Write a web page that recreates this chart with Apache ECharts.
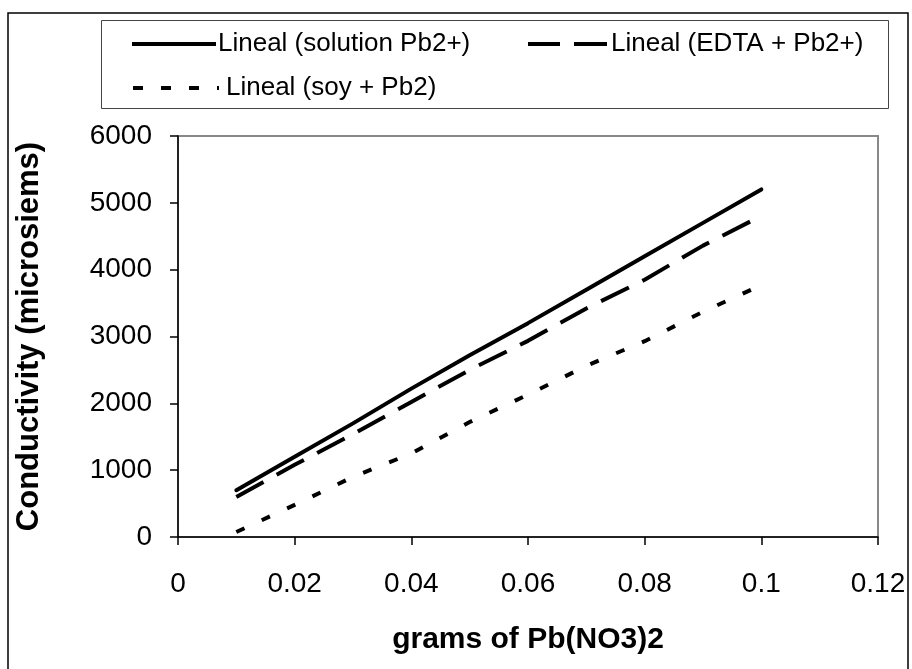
<!DOCTYPE html>
<html>
<head>
<meta charset="utf-8">
<script src="https://cdn.jsdelivr.net/npm/echarts@6/dist/echarts.min.js"></script>
<style>
html,body{margin:0;padding:0;background:#fff;}
#chart{width:912px;height:669px;}
</style>
</head>
<body>
<div id="chart"></div>
<script>
const grams = [0.01, 0.02, 0.03, 0.04, 0.05, 0.06, 0.07, 0.08, 0.09, 0.1];
const solutionPb = [700, 1200, 1700, 2220, 2720, 3200, 3700, 4200, 4700, 5200];
const edtaPb = [600, 1080, 1540, 2020, 2500, 2935, 3420, 3850, 4360, 4805];
const soyPb = [75, 480, 900, 1250, 1720, 2130, 2560, 2930, 3370, 3770];
const seriesNames = ['Lineal (solution Pb2+)', 'Lineal (EDTA + Pb2+)', 'Lineal (soy + Pb2)'];
const xTicks = ['0', '0.02', '0.04', '0.06', '0.08', '0.1', '0.12'];
const yTicks = ['0', '1000', '2000', '3000', '4000', '5000', '6000'];

function pairs(vals){ return grams.map((g,i)=>[g, vals[i]]); }

const FONT = '"Liberation Sans", Arial, sans-serif';
const chart = echarts.init(document.getElementById('chart'), null, {renderer:'canvas'});
function legendFor(name, icon, w, left, top, pad){
  return {
    data: [{name: name, icon: icon}],
    left: left, top: top, padding: 0,
    itemWidth: w, itemHeight: 4, symbolKeepAspect: false,
    textStyle: {fontFamily: FONT, fontSize: 26, color: '#000', padding: [0,0,0,pad]}
  };
}
chart.setOption({
  animation: false,
  backgroundColor: '#fff',
  graphic: [
    {type:'rect', shape:{x:8, y:13, width:900, height:700}, style:{fill:null, stroke:'#000', lineWidth:1.5}, z:0, silent:true},
    {type:'rect', shape:{x:101.5, y:20.5, width:787, height:88}, style:{fill:'#fff', stroke:'#444', lineWidth:1}, z:0, silent:true}
  ],
  legend: [
    legendFor(seriesNames[0], 'path://M0,0H84V4H0Z', 84, 132, 31, -3),
    legendFor(seriesNames[1], 'path://M0,0H32V4H0Z M46,0H79V4H46Z', 79, 528, 31, -1),
    legendFor(seriesNames[2], 'path://M0,0H10V4H0Z M28,0H38V4H28Z M56,0H66V4H56Z M84,0H86V4H84Z', 86, 133, 75, 2)
  ],
  grid: {left:178, right:34, top:136, bottom:132, show:true, borderColor:'#888', borderWidth:2, backgroundColor:'transparent'},
  xAxis: {
    type:'value', min:0, max:0.12, interval:0.02,
    name:'grams of Pb(NO3)2', nameLocation:'middle', nameGap:88,
    nameTextStyle:{fontFamily:FONT, fontSize:30, fontWeight:'bold', color:'#000'},
    axisLine:{show:true, onZero:false, lineStyle:{color:'#000', width:1.5}},
    axisTick:{show:true, inside:false, length:8, lineStyle:{color:'#000', width:1.5}},
    axisLabel:{fontFamily:FONT, fontSize:28, color:'#000', margin:33,
      formatter:(v)=>xTicks[Math.round(v/0.02)]},
    splitLine:{show:false}
  },
  yAxis: {
    type:'value', min:0, max:6000, interval:1000,
    name:'Conductivity (microsiems)', nameLocation:'middle', nameGap:133, nameRotate:90,
    nameTextStyle:{fontFamily:FONT, fontSize:31, fontWeight:'bold', color:'#000'},
    axisLine:{show:true, lineStyle:{color:'#000', width:1.5}},
    axisTick:{show:true, inside:false, length:8, lineStyle:{color:'#000', width:1.5}},
    axisLabel:{fontFamily:FONT, fontSize:28, color:'#000', margin:26,
      formatter:(v)=>yTicks[Math.round(v/1000)]},
    splitLine:{show:false}
  },
  series: [
    {name: seriesNames[0], type:'line', data: pairs(solutionPb), showSymbol:false, symbol:'none',
      lineStyle:{color:'#000', width:4, type:'solid', cap:'round'}, itemStyle:{color:'#000'}, z:3},
    {name: seriesNames[1], type:'line', data: pairs(edtaPb), showSymbol:false, symbol:'none',
      lineStyle:{color:'#000', width:4, type:[31,15], cap:'butt'}, itemStyle:{color:'#000'}, z:3},
    {name: seriesNames[2], type:'line', data: pairs(soyPb), showSymbol:false, symbol:'none',
      lineStyle:{color:'#000', width:4, type:[9,19], cap:'butt'}, itemStyle:{color:'#000'}, z:3}
  ]
});
</script>
</body>
</html>
